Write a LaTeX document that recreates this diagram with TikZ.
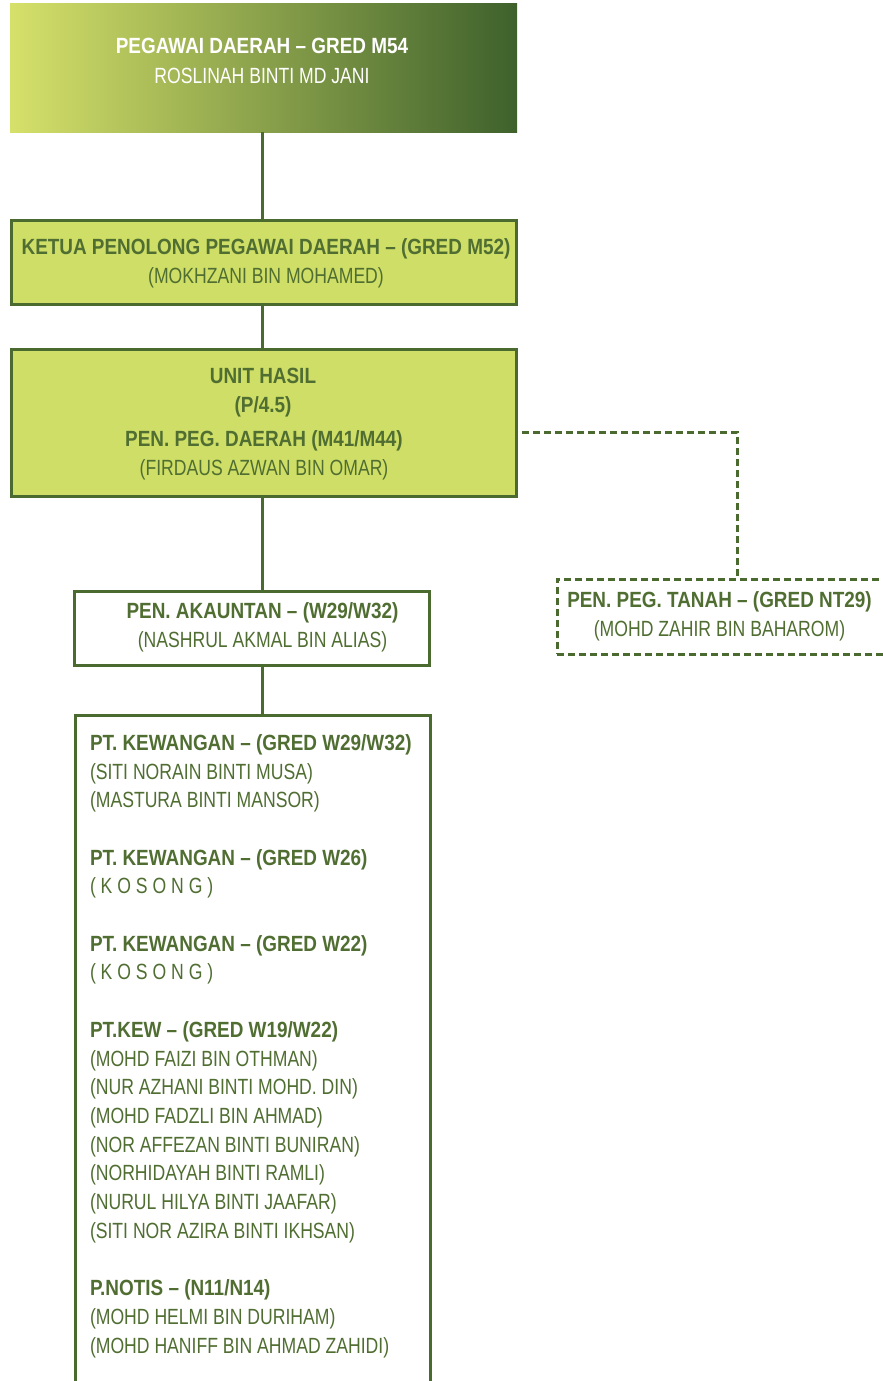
\documentclass[tikz,border=0pt]{standalone}
\usepackage{fontspec}
\setmainfont{Liberation Sans}[UprightFeatures={FakeStretch=0.80},BoldFeatures={FakeStretch=0.86}]
\usetikzlibrary{calc}
\definecolor{tgreen}{RGB}{80,110,50}
\definecolor{bgreen}{RGB}{75,106,47}
\definecolor{lime}{RGB}{206,222,102}
\definecolor{gleft}{RGB}{214,225,106}
\definecolor{gright}{RGB}{62,97,44}
\begin{document}
\begin{tikzpicture}[x=1pt,y=-1pt,
  every node/.style={inner sep=0pt,outer sep=0pt},
  headtxt/.style={font=\fontsize{22}{26}\selectfont\bfseries,text=tgreen,anchor=base},
  nametxt/.style={font=\fontsize{22}{26}\selectfont,text=tgreen,anchor=base},
  headw/.style={headtxt,text=white},
  namew/.style={nametxt,text=white},
  limebox/.style={draw=bgreen,line width=3pt,fill=lime},
  whitebox/.style={draw=bgreen,line width=3pt,fill=white},
  conn/.style={draw=bgreen,line width=3pt},
  dashline/.style={draw=bgreen,line width=3pt,dash pattern=on 7pt off 4pt}]
\path[use as bounding box,fill=white] (0,0) rectangle (883,1381);
\clip (0,0) rectangle (883,1381);
% top box
\node[left color=gleft,right color=gright,minimum width=507pt,minimum height=128pt] (pd) at (263.5,68) {};
\node[headw] (pdt) at (262,54) {PEGAWAI DAERAH – GRED M54};
\node[namew] (pdn) at (262,83) {ROSLINAH BINTI MD JANI};
% ketua
\node[limebox,minimum width=505pt,minimum height=84pt] (kp) at (263.5,262) {};
\node[headtxt] (kpt) at (266,254) {KETUA PENOLONG PEGAWAI DAERAH – (GRED M52)};
\node[nametxt] (kpn) at (266,283) {(MOKHZANI BIN MOHAMED)};
% unit hasil
\node[limebox,minimum width=505pt,minimum height=147pt] (uh) at (263.5,422.5) {};
\node[headtxt] (uht1) at (263,383) {UNIT HASIL};
\node[headtxt] (uht2) at (263,412) {(P/4.5)};
\node[headtxt] (uht3) at (264,446) {PEN. PEG. DAERAH (M41/M44)};
\node[nametxt] (uhn) at (264,475) {(FIRDAUS AZWAN BIN OMAR)};
% tanah (dashed)
\node[dashline,fill=white,minimum width=360pt,minimum height=75pt] (tn) at (737,616.5) {};
\node[headtxt] (tnt) at (719.5,607) {PEN. PEG. TANAH – (GRED NT29)};
\node[nametxt] (tnn) at (719.5,636) {(MOHD ZAHIR BIN BAHAROM)};
\coordinate (tj) at (737,579);
% akauntan
\node[whitebox,minimum width=355pt,minimum height=74pt] (ak) at (251.5,628) {};
\node[headtxt] (akt) at (262.5,618) {PEN. AKAUNTAN – (W29/W32)};
\node[nametxt] (akn) at (262.5,647) {(NASHRUL AKMAL BIN ALIAS)};
% staff box
\node[whitebox,minimum width=355pt,minimum height=720pt] (st) at (252.5,1075) {};
\node[font=\fontsize{22}{28.7}\selectfont,text=tgreen,anchor=base west,align=left] (stt) at (90,1353) {%
\textbf{PT. KEWANGAN – (GRED W29/W32)}\\
(SITI NORAIN BINTI MUSA)\\
(MASTURA BINTI MANSOR)\\[28.7pt]
\textbf{PT. KEWANGAN – (GRED W26)}\\
( K O S O N G )\\[28.7pt]
\textbf{PT. KEWANGAN – (GRED W22)}\\
( K O S O N G )\\[28.7pt]
\textbf{PT.KEW – (GRED W19/W22)}\\
(MOHD FAIZI BIN OTHMAN)\\
(NUR AZHANI BINTI MOHD. DIN)\\
(MOHD FADZLI BIN AHMAD)\\
(NOR AFFEZAN BINTI BUNIRAN)\\
(NORHIDAYAH BINTI RAMLI)\\
(NURUL HILYA BINTI JAAFAR)\\
(SITI NOR AZIRA BINTI IKHSAN)\\[28.7pt]
\textbf{P.NOTIS – (N11/N14)}\\
(MOHD HELMI BIN DURIHAM)\\
(MOHD HANIFF BIN AHMAD ZAHIDI)};
% connectors
\draw[conn] (pd.south -| 262,0) -- (kp.north -| 262,0);
\draw[conn] (kp.south -| 262,0) -- (uh.north -| 262,0);
\draw[conn] (uh.south -| 262,0) -- (ak.north -| 262,0);
\draw[conn] (ak.south -| 262,0) -- (st.north -| 262,0);
\draw[dashline] ([xshift=6pt,yshift=-9.5pt]uh.east) -| (tj);
\end{tikzpicture}
\end{document}
